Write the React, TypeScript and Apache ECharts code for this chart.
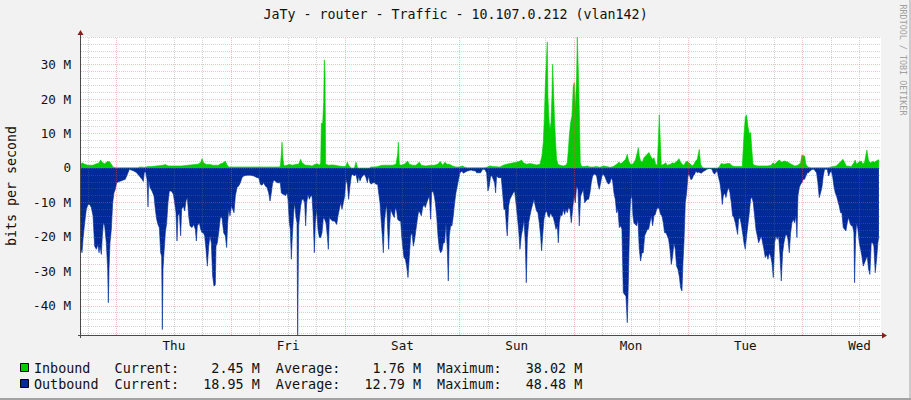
import React, { useEffect, useRef } from "react";
import * as echarts from "echarts";

// ---------- texts ----------
const TITLE = "JaTy - router - Traffic - 10.107.0.212 (vlan142)";
const Y_TITLE = "bits per second";
const WATERMARK = "RRDTOOL / TOBI OETIKER";
const DAY_LABELS = ["Thu", "Fri", "Sat", "Sun", "Mon", "Tue", "Wed"];
const DAY_LABEL_HOURS = [12, 36, 60, 84, 108, 132, 156]; // noon of each day, hours from Thu 00:00
const Y_LABEL_VALUES = [-40, -30, -20, -10, 0, 10, 20, 30]; // Mbit/s

// ---------- legend ----------
const SERIES_NAMES = ["Inbound", "Outbound"];
const SERIES_COLORS = ["#00CC00", "#002A97"];
const CURRENT = ["2.45", "18.95"];
const AVERAGE = ["1.76", "12.79"];
const MAXIMUM = ["38.02", "48.48"];

// ---------- axis ranges (hours from Thu 00:00, Mbit/s) ----------
const X_MIN = -7.5;
const X_MAX = 160.5;
const Y_MIN = -48.48;
const Y_MAX = 38.02;

// ---------- data: [hour, Mbit/s] ----------
const inbound: [number, number][] = [
  [-7.5, 1.2], [-7.29, 1.5], [-6.73, 1.1], [-6.03, 0.8], [-4.98, 0.8], [-4.28, 1.2], [-3.79, 1.4], [-3.37, 2.3],
  [-3.09, 1.7], [-2.53, 1.2], [-1.97, 1.9], [-1.48, 1.8], [-1.13, 1.1], [-0.78, 0.3], [-0.08, 0.1], [4.47, 0.1],
  [4.82, 0.3], [5.87, 0.2], [6.57, 0.4], [7.27, 0.4], [8.32, 0.6], [9.72, 0.8], [10.21, 1.0], [10.77, 0.6],
  [12.17, 0.6], [13.57, 0.6], [14.97, 0.8], [16.37, 1.0], [17.07, 1.1], [17.63, 1.6], [17.91, 2.7], [18.19, 1.6],
  [18.82, 1.0], [19.52, 1.0], [20.22, 0.8], [21.41, 0.8], [21.76, 1.2], [22.11, 1.3], [22.53, 1.7], [22.81, 2.0],
  [23.09, 1.1], [23.51, 0.3], [34.01, 0.3], [34.36, 0.4], [34.57, 4.0], [34.71, 7.5], [34.92, 2.5], [35.13, 0.6],
  [35.76, 0.8], [36.25, 1.1], [36.81, 0.8], [37.86, 1.1], [38.21, 1.1], [38.63, 2.5], [38.91, 1.5], [39.61, 0.8],
  [40.31, 0.8], [41.01, 0.6], [41.71, 1.1], [42.13, 1.2], [42.55, 0.8], [42.83, 1.5], [42.97, 13.0], [43.25, 13.0],
  [43.46, 19.0], [43.6, 31.4], [43.74, 27.5], [43.88, 1.1], [44.51, 0.8], [45.21, 0.9], [45.91, 0.8], [46.61, 0.6],
  [47.66, 0.4], [48.15, 0.6], [48.43, 1.7], [48.71, 0.8], [48.99, 0.4], [49.2, 0.0], [49.9, 0.0], [50.25, 1.7],
  [50.6, 0.0], [53.05, 0.0], [53.4, 0.3], [54.1, 0.3], [54.8, 0.4], [55.15, 0.6], [55.85, 0.8], [56.9, 0.8],
  [57.95, 0.8], [58.65, 1.1], [59.0, 4.0], [59.14, 7.5], [59.35, 1.1], [59.7, 0.8], [60.4, 1.1], [61.1, 2.0],
  [61.45, 1.1], [62.15, 0.8], [62.85, 0.8], [63.55, 1.7], [63.97, 0.8], [64.94, 0.6], [65.99, 0.8], [66.7, 0.8],
  [67.4, 1.1], [67.95, 1.9], [68.44, 0.8], [68.93, 1.7], [69.35, 1.1], [69.84, 1.1], [70.54, 0.6], [71.24, 0.3],
  [71.94, 0.3], [72.64, 0.6], [72.99, 0.3], [73.69, 0.1], [77.12, 0.1], [77.68, 0.2], [78.38, 0.6], [79.08, 0.4],
  [80.48, 0.3], [81.18, 0.8], [81.88, 1.1], [82.58, 1.3], [83.28, 1.5], [83.98, 1.7], [84.68, 2.0], [85.03, 2.3],
  [85.38, 1.5], [86.08, 1.1], [86.78, 1.3], [87.48, 1.1], [88.18, 0.9], [88.88, 1.1], [89.3, 3.5], [89.58, 7.4],
  [89.79, 14.2], [90.0, 23.9], [90.28, 32.5], [90.42, 36.6], [90.56, 20.9], [90.77, 14.2], [90.98, 11.2], [91.19, 13.2],
  [91.4, 20.9], [91.54, 30.1], [91.75, 21.9], [91.96, 13.2], [92.17, 7.4], [92.38, 2.5], [92.66, 1.1], [93.08, 0.8],
  [93.78, 0.6], [94.34, 0.8], [94.62, 1.5], [94.83, 4.9], [95.04, 9.3], [95.32, 13.2], [95.6, 15.1], [95.88, 23.8],
  [96.09, 24.8], [96.3, 17.0], [96.58, 26.7], [96.72, 38.02], [96.93, 28.6], [97.14, 17.0], [97.35, 1.5], [97.63, 0.4],
  [98.33, 0.4], [98.82, 0.6], [99.38, 0.3], [100.08, 0.3], [100.78, 0.4], [101.48, 0.2], [102.18, 0.6], [102.88, 0.4],
  [103.58, 0.2], [104.28, 0.4], [104.98, 1.1], [105.47, 1.7], [105.82, 1.3], [106.17, 1.5], [106.52, 2.0], [106.87, 2.5],
  [107.22, 4.0], [107.5, 2.0], [107.92, 1.1], [108.27, 1.1], [108.62, 1.5], [108.97, 2.5], [109.32, 4.5], [109.53, 5.9],
  [109.74, 3.5], [110.02, 2.0], [110.37, 1.7], [110.72, 3.0], [111.07, 3.5], [111.42, 4.0], [111.77, 4.5], [112.12, 3.5],
  [112.47, 2.5], [112.82, 3.0], [113.17, 1.1], [113.52, 0.8], [113.73, 7.4], [113.94, 15.4], [114.15, 7.8], [114.36, 0.8],
  [114.92, 1.1], [115.27, 1.5], [115.62, 0.8], [116.32, 1.1], [116.67, 1.5], [117.02, 1.3], [117.72, 2.0], [118.07, 2.7],
  [118.42, 1.7], [118.77, 1.1], [119.12, 0.8], [119.47, 1.7], [119.82, 2.0], [120.17, 1.5], [120.52, 1.1], [120.87, 0.6],
  [121.22, 1.1], [121.57, 2.0], [121.92, 2.5], [122.34, 5.4], [122.62, 1.1], [122.97, 0.2], [123.32, 0.0], [126.12, 0.0],
  [126.47, 0.2], [126.96, 1.3], [127.52, 1.1], [128.22, 1.3], [128.78, 1.3], [129.27, 0.6], [129.97, 0.4], [131.37, 0.4],
  [131.72, 9.3], [132.0, 14.7], [132.28, 15.4], [132.56, 12.0], [132.84, 10.0], [133.12, 10.3], [133.4, 4.9], [133.61, 1.1],
  [133.96, 0.8], [134.66, 0.6], [136.76, 0.6], [137.46, 0.8], [137.81, 1.5], [138.16, 1.1], [138.86, 2.0], [139.21, 2.3],
  [139.56, 1.7], [140.26, 2.0], [140.96, 1.7], [141.66, 1.1], [142.36, 0.6], [143.06, 0.8], [143.62, 1.5], [143.89, 3.7],
  [144.45, 3.5], [144.73, 1.1], [145.15, 0.3], [145.85, 0.1], [149.35, 0.1], [150.05, 0.3], [151.1, 0.6], [151.8, 1.5],
  [152.5, 2.5], [152.85, 1.7], [153.2, 0.6], [154.25, 0.4], [154.81, 1.5], [155.09, 2.3], [155.37, 1.1], [155.79, 1.7],
  [156.35, 2.0], [156.7, 1.1], [157.05, 1.7], [157.54, 5.2], [157.89, 2.0], [158.31, 1.5], [158.8, 1.9], [159.15, 1.7],
  [159.5, 2.0], [159.85, 2.3], [160.06, 2.4],
];

// outbound magnitude (drawn below zero)
const outbound: [number, number][] = [
  [-7.5, 23.6], [-7.29, 24.6], [-7.08, 20.7], [-6.73, 15.9], [-6.38, 12.0], [-6.03, 10.6], [-5.68, 10.6], [-5.33, 11.5],
  [-4.98, 13.9], [-4.63, 22.7], [-4.28, 23.6], [-3.93, 22.2], [-3.72, 24.6], [-3.51, 22.7], [-3.23, 25.1], [-3.02, 19.7],
  [-2.81, 15.9], [-2.53, 16.8], [-2.18, 21.7], [-1.9, 29.4], [-1.76, 39.1], [-1.62, 29.4], [-1.41, 21.7], [-1.13, 17.8],
  [-0.85, 10.1], [-0.57, 7.2], [-0.29, 6.2], [-0.01, 4.3], [0.27, 4.1], [0.83, 3.8], [1.39, 3.5], [1.81, 3.3],
  [2.09, 2.3], [2.37, 1.4], [2.65, 0.4], [3.07, 0.6], [3.63, 0.9], [4.19, 1.4], [4.75, 2.3], [5.31, 3.3],
  [5.59, 3.9], [5.8, 1.2], [6.08, 1.2], [6.36, 3.3], [6.57, 11.3], [6.71, 3.3], [6.99, 5.7], [7.41, 6.7],
  [7.83, 8.1], [8.11, 12.0], [8.39, 14.9], [8.67, 16.4], [8.95, 17.3], [9.23, 24.6], [9.44, 25.6], [9.58, 46.9],
  [9.72, 29.4], [9.93, 24.6], [10.21, 18.8], [10.49, 15.9], [10.77, 10.1], [11.05, 6.7], [11.47, 6.7], [11.89, 7.6],
  [12.17, 10.1], [12.45, 13.0], [12.66, 21.2], [12.87, 13.9], [13.15, 13.0], [13.43, 19.7], [13.64, 12.0], [13.99, 11.0],
  [14.27, 12.5], [14.55, 9.6], [14.83, 8.6], [15.11, 13.9], [15.39, 16.8], [15.81, 17.3], [16.16, 16.4], [16.51, 17.8],
  [16.72, 21.2], [16.93, 16.8], [17.35, 15.9], [17.63, 17.8], [17.91, 18.8], [18.19, 18.8], [18.47, 19.7], [18.75, 23.6],
  [19.03, 28.5], [19.31, 22.7], [19.59, 19.7], [19.87, 21.7], [20.15, 31.4], [20.43, 34.3], [20.71, 33.8], [20.85, 22.7],
  [21.13, 21.7], [21.41, 18.8], [21.76, 14.4], [22.11, 14.4], [22.46, 18.8], [22.81, 19.7], [23.09, 23.1], [23.3, 15.9],
  [23.51, 12.0], [23.79, 13.9], [24.07, 11.0], [24.35, 12.0], [24.63, 13.0], [24.91, 8.1], [25.26, 5.7], [25.61, 5.2],
  [25.96, 4.3], [26.31, 2.8], [26.66, 2.3], [27.36, 2.1], [28.06, 2.1], [28.76, 2.3], [29.46, 2.8], [29.81, 2.8],
  [30.16, 4.7], [30.51, 5.0], [30.86, 4.3], [31.21, 5.2], [31.56, 5.7], [31.91, 7.2], [32.19, 9.6], [32.47, 7.2],
  [32.75, 4.3], [33.03, 3.5], [33.31, 3.8], [33.66, 4.3], [34.01, 4.3], [34.36, 4.3], [34.57, 7.2], [34.85, 7.6],
  [35.13, 7.6], [35.41, 8.1], [35.76, 7.2], [35.97, 9.1], [36.25, 15.9], [36.46, 17.8], [36.67, 26.5], [36.88, 19.7],
  [37.16, 13.0], [37.37, 10.1], [37.65, 14.4], [37.86, 15.9], [38.0, 48.48], [38.21, 16.8], [38.42, 13.9], [38.63, 11.0],
  [38.91, 9.1], [39.19, 9.1], [39.47, 10.1], [39.68, 16.8], [39.89, 10.1], [40.17, 7.6], [40.45, 9.1], [40.73, 8.1],
  [41.01, 8.1], [41.22, 13.0], [41.5, 24.6], [41.71, 15.9], [41.99, 12.0], [42.27, 17.8], [42.55, 20.2], [42.83, 20.2],
  [43.11, 18.8], [43.39, 14.4], [43.67, 14.9], [43.95, 15.9], [44.23, 19.7], [44.44, 23.6], [44.65, 14.4], [44.93, 14.9],
  [45.35, 15.4], [45.77, 15.4], [46.19, 16.4], [46.47, 13.9], [46.75, 12.0], [47.03, 10.1], [47.31, 12.0], [47.59, 10.1],
  [47.87, 8.1], [48.15, 3.3], [48.43, 4.7], [48.71, 9.1], [48.99, 5.2], [49.27, 2.3], [49.55, 1.8], [49.9, 2.3],
  [50.25, 1.8], [50.6, 4.3], [50.81, 2.3], [51.09, 3.8], [51.37, 2.8], [51.65, 2.3], [52.0, 1.8], [52.35, 2.8],
  [52.63, 4.3], [52.91, 2.3], [53.19, 4.3], [53.47, 4.7], [53.75, 4.3], [54.1, 4.3], [54.45, 4.7], [54.8, 4.7],
  [55.01, 7.2], [55.29, 10.1], [55.57, 15.9], [55.78, 19.7], [55.99, 24.6], [56.2, 15.9], [56.41, 13.0], [56.69, 10.6],
  [56.9, 17.8], [57.11, 23.6], [57.32, 16.8], [57.53, 12.0], [57.81, 13.0], [58.09, 13.9], [58.3, 14.4], [58.51, 11.5],
  [58.79, 12.5], [59.0, 14.9], [59.35, 15.4], [59.63, 15.4], [59.84, 19.7], [60.05, 22.7], [60.33, 26.0], [60.61, 26.5],
  [60.89, 28.5], [61.17, 31.8], [61.45, 25.6], [61.73, 19.7], [62.01, 18.8], [62.29, 22.7], [62.57, 20.7], [62.85, 17.8],
  [63.13, 14.9], [63.41, 12.5], [63.69, 13.0], [63.97, 13.9], [64.25, 11.5], [64.53, 10.6], [64.81, 11.5], [65.09, 10.1],
  [65.37, 9.1], [65.65, 8.1], [65.93, 14.9], [66.14, 7.2], [66.42, 6.7], [66.7, 8.1], [66.91, 10.1], [67.19, 13.9],
  [67.47, 19.7], [67.75, 23.6], [68.02, 24.6], [68.3, 24.1], [68.58, 21.7], [68.86, 21.7], [69.14, 15.9], [69.42, 23.6],
  [69.63, 32.8], [69.84, 19.7], [70.12, 16.8], [70.4, 16.8], [70.68, 13.9], [70.96, 10.1], [71.24, 7.2], [71.52, 5.2],
  [71.8, 3.3], [72.08, 1.4], [72.5, 0.9], [72.78, 1.5], [73.2, 1.2], [73.62, 0.9], [74.04, 0.7], [74.46, 0.6],
  [74.88, 0.8], [75.3, 0.8], [75.58, 1.4], [76.0, 1.4], [76.42, 1.4], [76.84, 0.4], [77.26, 0.4], [77.68, 1.4],
  [77.96, 6.7], [78.24, 5.2], [78.52, 2.3], [78.8, 2.3], [79.08, 3.3], [79.36, 4.3], [79.57, 7.2], [79.78, 2.3],
  [80.13, 2.8], [80.48, 2.8], [80.76, 2.8], [81.04, 7.2], [81.32, 12.0], [81.6, 12.0], [81.88, 17.8], [82.02, 19.7],
  [82.3, 11.0], [82.58, 9.1], [82.93, 8.1], [83.28, 7.2], [83.56, 6.7], [83.84, 10.1], [84.12, 13.9], [84.4, 17.8],
  [84.68, 23.6], [84.96, 19.7], [85.24, 17.8], [85.52, 14.9], [85.8, 21.7], [86.01, 33.3], [86.22, 20.7], [86.5, 15.9],
  [86.78, 13.9], [87.06, 12.0], [87.34, 10.6], [87.62, 9.1], [87.9, 11.0], [88.18, 12.5], [88.46, 13.0], [88.74, 15.9],
  [89.02, 19.7], [89.23, 24.1], [89.44, 19.7], [89.72, 14.9], [90.0, 13.0], [90.28, 12.5], [90.56, 13.9], [90.84, 14.4],
  [91.12, 13.0], [91.4, 13.9], [91.68, 14.4], [91.96, 15.9], [92.24, 17.8], [92.52, 16.8], [92.73, 21.7], [92.94, 15.9],
  [93.22, 13.5], [93.5, 13.9], [93.78, 12.0], [94.06, 13.5], [94.34, 12.0], [94.62, 13.0], [94.9, 11.5], [95.18, 12.0],
  [95.46, 15.9], [95.74, 12.0], [96.02, 8.1], [96.3, 10.1], [96.58, 5.2], [96.86, 6.2], [97.14, 16.8], [97.42, 8.1],
  [97.7, 7.2], [97.98, 6.2], [98.26, 10.1], [98.54, 9.6], [98.82, 9.1], [99.1, 9.1], [99.38, 7.2], [99.66, 4.3],
  [99.94, 2.3], [100.22, 1.8], [100.5, 1.8], [100.78, 2.3], [101.06, 4.7], [101.34, 6.2], [101.62, 4.3], [101.9, 2.3],
  [102.18, 1.8], [102.46, 2.3], [102.74, 3.3], [103.02, 4.3], [103.3, 4.7], [103.58, 4.3], [103.86, 2.8], [104.14, 3.8],
  [104.42, 7.2], [104.7, 9.1], [104.98, 13.0], [105.26, 12.0], [105.54, 17.3], [105.82, 16.8], [106.1, 17.8], [106.38, 36.2],
  [106.66, 36.7], [106.94, 37.2], [107.22, 44.9], [107.36, 38.1], [107.57, 24.6], [107.78, 13.0], [107.92, 9.1], [108.2, 8.1],
  [108.41, 13.9], [108.62, 15.9], [108.9, 16.4], [109.18, 16.8], [109.46, 14.9], [109.74, 23.6], [110.02, 27.0], [110.3, 24.6],
  [110.58, 24.6], [110.86, 19.7], [111.14, 18.8], [111.42, 17.8], [111.7, 17.8], [111.98, 15.9], [112.26, 13.9], [112.54, 16.8],
  [112.82, 13.9], [113.1, 13.5], [113.38, 12.0], [113.66, 11.5], [113.94, 12.0], [114.22, 13.5], [114.5, 13.9], [114.78, 15.9],
  [115.06, 18.8], [115.34, 18.8], [115.62, 19.7], [115.9, 20.7], [116.18, 23.6], [116.46, 28.0], [116.74, 25.6], [117.02, 21.7],
  [117.3, 23.6], [117.58, 28.5], [117.86, 29.4], [118.14, 31.4], [118.42, 34.8], [118.7, 35.7], [118.91, 27.5], [119.12, 21.7],
  [119.4, 10.1], [119.68, 7.2], [119.96, 2.3], [120.24, 1.8], [120.52, 3.3], [120.8, 3.3], [121.08, 2.3], [121.36, 1.8],
  [121.64, 0.9], [121.92, 1.4], [122.2, 1.2], [122.48, 1.4], [122.76, 1.5], [123.04, 1.2], [123.32, 0.9], [123.6, 0.7],
  [123.88, 0.4], [124.3, 0.2], [124.72, 0.2], [125.0, 0.4], [125.28, 1.4], [125.56, 1.8], [125.84, 1.2], [126.12, 0.9],
  [126.4, 2.8], [126.68, 4.3], [126.96, 7.2], [127.17, 10.6], [127.38, 8.1], [127.66, 7.2], [127.94, 8.6], [128.22, 6.7],
  [128.5, 5.7], [128.78, 7.2], [129.06, 10.1], [129.34, 13.9], [129.62, 14.4], [129.9, 15.9], [130.18, 17.8], [130.39, 19.3],
  [130.6, 14.9], [130.88, 14.4], [131.16, 16.4], [131.44, 18.8], [131.72, 21.7], [132.0, 23.6], [132.28, 19.7], [132.56, 16.4],
  [132.84, 13.0], [133.12, 9.0], [133.4, 8.5], [133.68, 10.1], [133.96, 13.9], [134.24, 17.8], [134.52, 19.7], [134.8, 21.7],
  [135.08, 20.7], [135.36, 19.7], [135.64, 21.7], [135.92, 23.6], [136.2, 26.0], [136.48, 25.1], [136.76, 26.5], [137.04, 24.6],
  [137.32, 25.6], [137.6, 27.5], [137.88, 31.8], [138.16, 21.7], [138.44, 19.7], [138.72, 20.7], [139.0, 19.7], [139.28, 25.1],
  [139.56, 32.8], [139.84, 24.6], [140.12, 21.7], [140.4, 19.7], [140.68, 19.3], [140.96, 20.7], [141.24, 24.6], [141.52, 18.8],
  [141.8, 15.9], [142.08, 14.9], [142.36, 15.9], [142.64, 13.9], [142.85, 20.2], [143.06, 8.1], [143.34, 5.7], [143.62, 4.7],
  [143.89, 4.3], [144.17, 3.3], [144.45, 3.3], [144.73, 2.3], [145.01, 1.4], [145.29, 1.4], [145.57, 0.9], [145.85, 0.6],
  [146.13, 0.4], [146.41, 0.4], [146.69, 0.9], [146.97, 1.4], [147.25, 4.3], [147.53, 8.6], [147.81, 7.2], [148.09, 5.7],
  [148.37, 2.3], [148.65, 0.4], [148.93, 0.4], [149.21, 0.4], [149.49, 2.3], [149.77, 1.4], [150.05, 0.9], [150.33, 2.3],
  [150.61, 5.2], [150.89, 7.2], [151.17, 8.1], [151.45, 9.6], [151.73, 11.0], [152.01, 13.0], [152.29, 13.0], [152.57, 17.3],
  [152.85, 17.8], [153.13, 18.3], [153.41, 15.9], [153.69, 14.4], [153.97, 15.9], [154.25, 16.8], [154.53, 16.8], [154.81, 18.8],
  [154.95, 33.3], [155.16, 20.7], [155.37, 15.9], [155.65, 17.8], [155.93, 21.7], [156.21, 23.6], [156.49, 25.6], [156.77, 28.5],
  [157.05, 27.5], [157.33, 26.5], [157.61, 25.6], [157.89, 29.4], [158.17, 30.9], [158.45, 21.7], [158.73, 21.7], [159.01, 22.7],
  [159.29, 30.4], [159.57, 26.5], [159.85, 21.7], [160.06, 19.7],
];

// ---------- layout ----------
const W = 911;
const H = 400;
const GRID_LEFT = 81;
const GRID_TOP = 37;
const GRID_W = 800;
const GRID_H = 298;
const MONO = '"DejaVu Sans Mono", "Liberation Mono", monospace';
const MINOR_GRID = "rgba(120,120,120,0.32)";
const MAJOR_GRID = "rgba(238,90,90,0.38)";

function legendLine(i: number): string {
  return (
    SERIES_NAMES[i].padEnd(10) +
    "Current:" + CURRENT[i].padStart(8) + " M  " +
    "Average:" + AVERAGE[i].padStart(8) + " M  " +
    "Maximum:" + MAXIMUM[i].padStart(8) + " M"
  );
}

function gridMarkLines() {
  const lines: any[] = [];
  for (let v = -48; v <= 38; v += 2) {
    const major = v % 10 === 0;
    lines.push({
      yAxis: v,
      lineStyle: { color: major ? MAJOR_GRID : MINOR_GRID, type: [1, 1], width: 1 },
    });
  }
  for (let h = -6; h <= 160; h += 6) {
    const major = h % 24 === 0;
    lines.push({
      xAxis: h,
      lineStyle: { color: major ? MAJOR_GRID : MINOR_GRID, type: [1, 1], width: 1 },
    });
  }
  return lines;
}

export default function App() {
  const ref = useRef<HTMLDivElement>(null);

  useEffect(() => {
    if (!ref.current) return;
    const chart = echarts.init(ref.current, undefined, { renderer: "svg", width: W, height: H });

    const xTicks: number[] = [];
    for (let h = -6; h <= 160; h += 6) xTicks.push(h);

    const axisBottom = GRID_TOP + GRID_H;
    const graphics: any[] = [
      {
        type: "text",
        x: W / 2,
        y: 14.5,
        style: { text: TITLE, font: `13.3px ${MONO}`, fill: "#111", textAlign: "center", textVerticalAlign: "middle" },
      },
      {
        type: "text",
        x: 11,
        y: 186,
        rotation: Math.PI / 2,
        style: { text: Y_TITLE, font: `13.3px ${MONO}`, fill: "#111", textAlign: "center", textVerticalAlign: "middle" },
      },
      {
        type: "text",
        x: 902.5,
        y: 60,
        rotation: -Math.PI / 2,
        style: { text: WATERMARK, font: `8.4px ${MONO}`, fill: "#a0a0a0", textAlign: "center", textVerticalAlign: "middle" },
      },
      // axes
      {
        type: "line",
        shape: { x1: GRID_LEFT - 0.5, y1: GRID_TOP - 3, x2: GRID_LEFT - 0.5, y2: axisBottom + 3 },
        style: { stroke: "#4a4a4a", lineWidth: 1 },
      },
      {
        type: "line",
        shape: { x1: GRID_LEFT - 3, y1: axisBottom + 0.5, x2: GRID_LEFT + GRID_W + 2, y2: axisBottom + 0.5 },
        style: { stroke: "#4a4a4a", lineWidth: 1 },
      },
      {
        type: "polygon",
        shape: { points: [[GRID_LEFT - 3.5, GRID_TOP - 2], [GRID_LEFT + 2.5, GRID_TOP - 2], [GRID_LEFT - 0.5, GRID_TOP - 7]] },
        style: { fill: "#8b1c1c" },
      },
      {
        type: "polygon",
        shape: {
          points: [[GRID_LEFT + GRID_W + 1, axisBottom - 2.5], [GRID_LEFT + GRID_W + 1, axisBottom + 3.5], [GRID_LEFT + GRID_W + 6, axisBottom + 0.5]],
        },
        style: { fill: "#8b1c1c" },
      },
    ];

    SERIES_NAMES.forEach((_, i) => {
      const cy = 368 + i * 16;
      graphics.push({
        type: "rect",
        shape: { x: 20.5, y: cy - 4.5, width: 8, height: 8 },
        style: { fill: SERIES_COLORS[i], stroke: "#000", lineWidth: 1 },
      });
      graphics.push({
        type: "text",
        x: 34,
        y: cy,
        style: { text: legendLine(i), font: `13.4px ${MONO}`, fill: "#111", textAlign: "left", textVerticalAlign: "middle" },
      });
    });

    chart.setOption({
      animation: false,
      backgroundColor: "transparent",
      grid: {
        left: GRID_LEFT,
        top: GRID_TOP,
        width: GRID_W,
        height: GRID_H,
        show: true,
        backgroundColor: "#ffffff",
        borderWidth: 0,
      },
      xAxis: {
        type: "value",
        min: X_MIN,
        max: X_MAX,
        axisLine: { show: false },
        splitLine: { show: false },
        axisTick: { show: true, customValues: xTicks, length: 3, lineStyle: { color: "#4a4a4a" } },
        axisLabel: {
          customValues: DAY_LABEL_HOURS,
          formatter: (v: number) => DAY_LABELS[DAY_LABEL_HOURS.indexOf(Math.round(v))] ?? "",
          margin: 4,
          fontFamily: MONO,
          fontSize: 12.6,
          color: "#111",
        },
      },
      yAxis: {
        type: "value",
        min: Y_MIN,
        max: Y_MAX,
        axisLine: { show: false },
        splitLine: { show: false },
        axisTick: { show: false },
        axisLabel: {
          customValues: Y_LABEL_VALUES,
          formatter: (v: number) => (Math.round(v) === 0 ? "0" : `${Math.round(v)} M`),
          margin: 10,
          fontFamily: MONO,
          fontSize: 12.6,
          color: "#111",
        },
      },
      graphic: graphics,
      series: [
        {
          name: SERIES_NAMES[0],
          type: "line",
          data: inbound,
          symbol: "none",
          showSymbol: false,
          lineStyle: { width: 0.6, color: SERIES_COLORS[0] },
          areaStyle: { color: SERIES_COLORS[0], opacity: 1 },
          z: 2,
        },
        {
          name: SERIES_NAMES[1],
          type: "line",
          data: outbound.map(([h, v]) => [h, -v]),
          symbol: "none",
          showSymbol: false,
          lineStyle: { width: 0.6, color: SERIES_COLORS[1] },
          areaStyle: { color: SERIES_COLORS[1], opacity: 1 },
          z: 2,
        },
        {
          name: "grid",
          type: "line",
          data: [],
          z: 5,
          silent: true,
          markLine: {
            silent: true,
            symbol: ["none", "none"],
            label: { show: false },
            animation: false,
            data: gridMarkLines(),
          },
        },
      ],
    });

    return () => chart.dispose();
  }, []);

  return (
    <div
      style={{
        position: "fixed",
        left: 0,
        top: 0,
        width: W,
        height: H,
        background: "#f2f2f2",
        overflow: "hidden",
      }}
    >
      <div style={{ position: "absolute", right: 0, top: 0, width: 2, height: H, background: "#cbcbcb" }} />
      <div style={{ position: "absolute", left: 0, bottom: 0, width: W, height: 2, background: "#a3a3a3" }} />
      <div ref={ref} style={{ position: "absolute", left: 0, top: 0, width: W, height: H }} />
    </div>
  );
}
